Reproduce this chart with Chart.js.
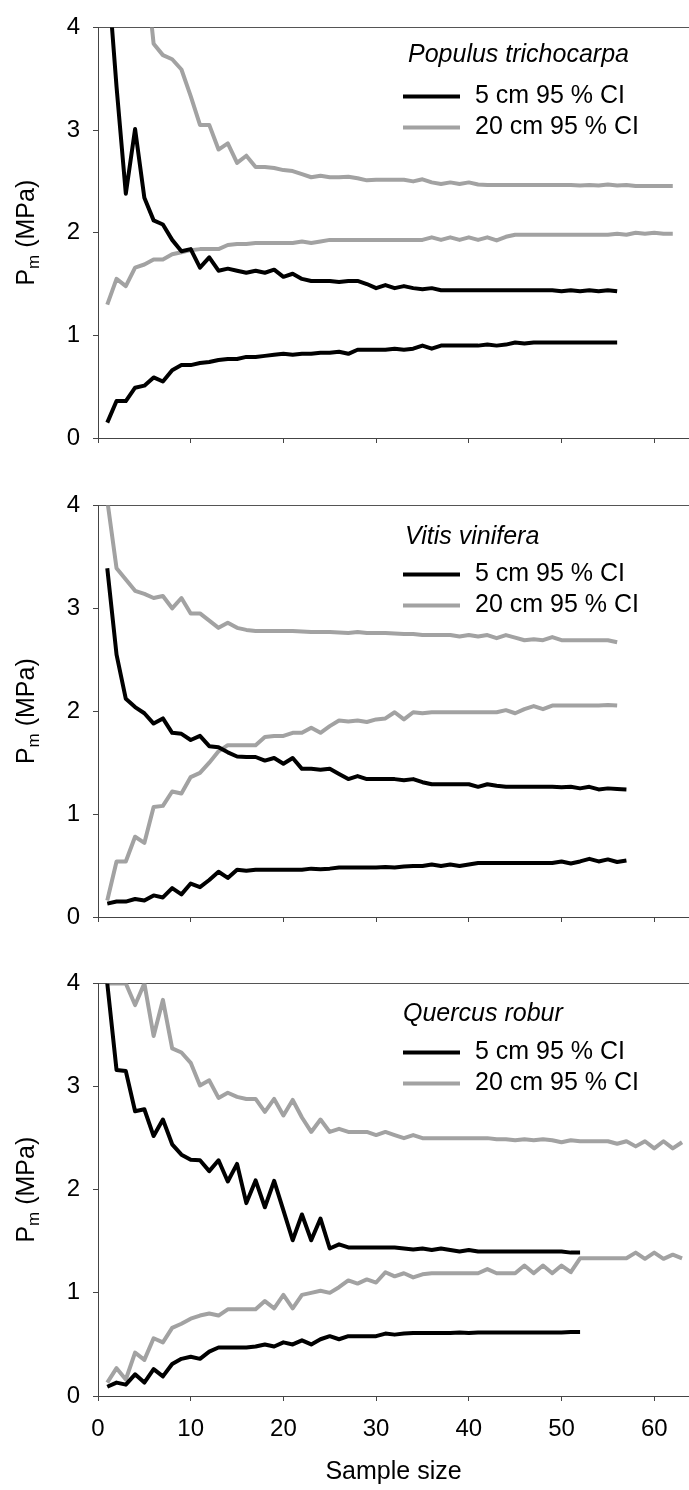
<!DOCTYPE html>
<html>
<head>
<meta charset="utf-8">
<title>Pm vs sample size</title>
<script src="https://cdn.jsdelivr.net/npm/chart.js"></script>
<style>
  html, body { margin: 0; padding: 0; background: #fff; }
  #wrap { position: relative; width: 689px; height: 1490px; }
  canvas { position: absolute; left: 0; }
</style>
</head>
<body>
<div id="wrap">
  <canvas id="c1" width="689" height="478" style="top:0px"></canvas>
  <canvas id="c2" width="689" height="478" style="top:478px"></canvas>
  <canvas id="c3" width="689" height="534" style="top:956px"></canvas>
</div>
<script>
// values, index 0 = sample size 1

const speciesNames = ['Populus trichocarpa', 'Vitis vinifera', 'Quercus robur'];
const legendLabels = ['5 cm 95 % CI', '20 cm 95 % CI'];
const xTicks = [0, 10, 20, 30, 40, 50, 60];
const yTicks = [0, 1, 2, 3, 4];

// Populus trichocarpa
const populus5Upper = [4.6, 3.42, 2.38, 3.01, 2.34, 2.12, 2.08, 1.93, 1.82, 1.84,
  1.66, 1.76, 1.63, 1.65, 1.63, 1.61, 1.63, 1.61, 1.64, 1.57,
  1.60, 1.55, 1.53, 1.53, 1.53, 1.52, 1.53, 1.53, 1.50, 1.46,
  1.49, 1.46, 1.48, 1.46, 1.45, 1.46, 1.44, 1.44, 1.44, 1.44,
  1.44, 1.44, 1.44, 1.44, 1.44, 1.44, 1.44, 1.44, 1.44, 1.43,
  1.44, 1.43, 1.44, 1.43, 1.44, 1.43];
const populus5Lower = [0.15, 0.36, 0.36, 0.49, 0.51, 0.59, 0.55, 0.66, 0.71, 0.71,
  0.73, 0.74, 0.76, 0.77, 0.77, 0.79, 0.79, 0.80, 0.81, 0.82,
  0.81, 0.82, 0.82, 0.83, 0.83, 0.84, 0.82, 0.86, 0.86, 0.86,
  0.86, 0.87, 0.86, 0.87, 0.90, 0.87, 0.90, 0.90, 0.90, 0.90,
  0.90, 0.91, 0.90, 0.91, 0.93, 0.92, 0.93, 0.93, 0.93, 0.93,
  0.93, 0.93, 0.93, 0.93, 0.93, 0.93];
const populus20Upper = [8.5, 6.8, 5.9, 5.2, 4.7, 3.84, 3.73, 3.69, 3.59, 3.33,
  3.05, 3.05, 2.81, 2.87, 2.68, 2.75, 2.64, 2.64, 2.63, 2.61,
  2.60, 2.57, 2.54, 2.555, 2.54, 2.54, 2.545, 2.53, 2.51, 2.515,
  2.515, 2.515, 2.515, 2.50, 2.52, 2.49, 2.475, 2.49, 2.475, 2.49,
  2.47, 2.465, 2.465, 2.465, 2.465, 2.465, 2.465, 2.465, 2.465, 2.465,
  2.465, 2.46, 2.465, 2.46, 2.47, 2.46, 2.465, 2.455, 2.455, 2.455,
  2.455, 2.455];
const populus20Lower = [1.30, 1.55, 1.48, 1.66, 1.69, 1.74, 1.74, 1.79, 1.81, 1.83,
  1.84, 1.84, 1.84, 1.88, 1.89, 1.89, 1.90, 1.90, 1.90, 1.90,
  1.90, 1.915, 1.90, 1.915, 1.93, 1.93, 1.93, 1.93, 1.93, 1.93,
  1.93, 1.93, 1.93, 1.93, 1.93, 1.955, 1.93, 1.955, 1.93, 1.955,
  1.93, 1.955, 1.925, 1.96, 1.98, 1.98, 1.98, 1.98, 1.98, 1.98,
  1.98, 1.98, 1.98, 1.98, 1.98, 1.99, 1.98, 2.0, 1.99, 2.0,
  1.99, 1.99];

// Vitis vinifera
const vitis5Upper = [3.39, 2.55, 2.12, 2.04, 1.98, 1.88, 1.93, 1.79, 1.78, 1.72,
  1.76, 1.66, 1.65, 1.60, 1.56, 1.555, 1.555, 1.52, 1.545, 1.49,
  1.545, 1.44, 1.44, 1.43, 1.44, 1.39, 1.34, 1.37, 1.34, 1.34,
  1.34, 1.34, 1.33, 1.34, 1.31, 1.29, 1.29, 1.29, 1.29, 1.29,
  1.265, 1.29, 1.275, 1.265, 1.265, 1.265, 1.265, 1.265, 1.265, 1.26,
  1.265, 1.25, 1.265, 1.24, 1.25, 1.245, 1.24];
const vitis5Lower = [0.13, 0.15, 0.15, 0.175, 0.16, 0.21, 0.19, 0.28, 0.22, 0.325,
  0.29, 0.36, 0.44, 0.38, 0.46, 0.45, 0.46, 0.46, 0.46, 0.46,
  0.46, 0.46, 0.47, 0.465, 0.47, 0.48, 0.48, 0.48, 0.48, 0.48,
  0.485, 0.48, 0.49, 0.495, 0.495, 0.51, 0.495, 0.51, 0.495, 0.51,
  0.525, 0.525, 0.525, 0.525, 0.525, 0.525, 0.525, 0.525, 0.525, 0.54,
  0.52, 0.54, 0.565, 0.54, 0.56, 0.535, 0.55];
const vitis20Upper = [4.05, 3.39, 3.28, 3.17, 3.14, 3.10, 3.12, 3.00, 3.10, 2.95,
  2.95, 2.88, 2.81, 2.86, 2.81, 2.79, 2.78, 2.78, 2.78, 2.78,
  2.78, 2.775, 2.77, 2.77, 2.77, 2.765, 2.76, 2.77, 2.76, 2.76,
  2.76, 2.755, 2.75, 2.75, 2.74, 2.74, 2.74, 2.74, 2.725, 2.74,
  2.725, 2.74, 2.71, 2.74, 2.715, 2.69, 2.70, 2.69, 2.72, 2.69,
  2.69, 2.69, 2.69, 2.69, 2.69, 2.67];
const vitis20Lower = [0.16, 0.54, 0.54, 0.78, 0.72, 1.07, 1.08, 1.22, 1.20, 1.36,
  1.40, 1.50, 1.61, 1.67, 1.67, 1.67, 1.67, 1.75, 1.76, 1.76,
  1.79, 1.79, 1.84, 1.79, 1.855, 1.91, 1.90, 1.91, 1.895, 1.92,
  1.93, 1.99, 1.92, 1.99, 1.98, 1.99, 1.99, 1.99, 1.99, 1.99,
  1.99, 1.99, 1.99, 2.01, 1.98, 2.02, 2.05, 2.02, 2.055, 2.055,
  2.055, 2.055, 2.055, 2.055, 2.06, 2.055];

// Quercus robur
const quercus5Upper = [4.0, 3.16, 3.15, 2.76, 2.78, 2.52, 2.68, 2.44, 2.34, 2.29,
  2.285, 2.18, 2.285, 2.08, 2.25, 1.87, 2.09, 1.83, 2.085, 1.80,
  1.51, 1.76, 1.51, 1.72, 1.43, 1.47, 1.44, 1.44, 1.44, 1.44,
  1.44, 1.44, 1.43, 1.42, 1.43, 1.415, 1.43, 1.415, 1.40, 1.415,
  1.40, 1.40, 1.40, 1.40, 1.40, 1.40, 1.40, 1.40, 1.40, 1.40,
  1.39, 1.39];
const quercus5Lower = [0.09, 0.13, 0.11, 0.21, 0.13, 0.26, 0.19, 0.31, 0.36, 0.38,
  0.36, 0.43, 0.47, 0.47, 0.47, 0.47, 0.48, 0.50, 0.48, 0.52,
  0.50, 0.54, 0.50, 0.55, 0.58, 0.55, 0.58, 0.58, 0.58, 0.58,
  0.605, 0.595, 0.605, 0.61, 0.61, 0.61, 0.61, 0.61, 0.615, 0.61,
  0.615, 0.615, 0.615, 0.615, 0.615, 0.615, 0.615, 0.615, 0.615, 0.615,
  0.62, 0.62];
const quercus20Upper = [4.0, 4.0, 4.0, 3.79, 4.0, 3.49, 3.84, 3.37, 3.33, 3.23,
  3.01, 3.06, 2.89, 2.94, 2.90, 2.88, 2.88, 2.755, 2.88, 2.72,
  2.87, 2.70, 2.56, 2.68, 2.56, 2.59, 2.56, 2.56, 2.56, 2.53,
  2.56, 2.53, 2.50, 2.53, 2.50, 2.50, 2.50, 2.50, 2.50, 2.50,
  2.50, 2.50, 2.49, 2.49, 2.48, 2.49, 2.48, 2.49, 2.48, 2.46,
  2.48, 2.47, 2.47, 2.47, 2.47, 2.445, 2.47, 2.42, 2.47, 2.40,
  2.47, 2.40, 2.46];
const quercus20Lower = [0.13, 0.27, 0.16, 0.42, 0.35, 0.56, 0.52, 0.66, 0.70, 0.75,
  0.78, 0.80, 0.78, 0.84, 0.84, 0.84, 0.84, 0.92, 0.85, 0.98,
  0.85, 0.98, 1.0, 1.02, 1.0, 1.055, 1.12, 1.09, 1.13, 1.10,
  1.20, 1.16, 1.19, 1.15, 1.18, 1.19, 1.19, 1.19, 1.19, 1.19,
  1.19, 1.23, 1.19, 1.19, 1.19, 1.265, 1.19, 1.265, 1.19, 1.265,
  1.20, 1.335, 1.335, 1.335, 1.335, 1.335, 1.335, 1.39, 1.33, 1.39,
  1.33, 1.37, 1.335];

const FONT = '"Liberation Sans", Arial, Helvetica, sans-serif';
const BLACK = '#000000';
const GREY = '#a2a2a2';
const AXIS = '#444444';

// species name, legend and the P_m axis title (subscript needs manual drawing)
const panelText = {
  id: 'panelText',
  afterDraw(chart, args, opts) {
    const ctx = chart.ctx;
    const area = chart.chartArea;
    ctx.save();

    ctx.fillStyle = '#000';
    ctx.textAlign = 'left';
    ctx.textBaseline = 'middle';
    ctx.font = 'italic 25px ' + FONT;
    ctx.fillText(opts.species, area.left + opts.titleX, area.top + opts.titleY);

    // one legend row per distinct label
    const seen = [];
    chart.data.datasets.forEach(function(ds) {
      if (seen.indexOf(ds.label) === -1) seen.push(ds.label);
    });
    ctx.font = '25px ' + FONT;
    seen.forEach(function(label, i) {
      const ds = chart.data.datasets.find(d => d.label === label);
      const y = area.top + 69 + i * 31;
      ctx.strokeStyle = ds.borderColor;
      ctx.lineWidth = 4;
      ctx.beginPath();
      ctx.moveTo(area.left + 305, y);
      ctx.lineTo(area.left + 362, y);
      ctx.stroke();
      ctx.fillText(label, area.left + 377, y);
    });

    // rotated y title
    ctx.translate(25, (area.top + area.bottom) / 2);
    ctx.rotate(-Math.PI / 2);
    ctx.textBaseline = 'alphabetic';
    const big = '25px ' + FONT;
    const small = '17px ' + FONT;
    ctx.font = big;
    const wP = ctx.measureText('P').width;
    const wRest = ctx.measureText(' (MPa)').width;
    ctx.font = small;
    const wm = ctx.measureText('m').width;
    let x = -(wP + wm + wRest) / 2;
    ctx.font = big;
    ctx.fillText('P', x, 9);
    x += wP;
    ctx.font = small;
    ctx.fillText('m', x, 14);
    x += wm;
    ctx.font = big;
    ctx.fillText(' (MPa)', x, 9);

    ctx.restore();
  }
};

function line(values, label, color) {
  return {
    label: label,
    data: values.map((v, i) => ({ x: i + 1, y: v })),
    borderColor: color,
    backgroundColor: color,
    borderWidth: 4,
    pointRadius: 0,
    pointHoverRadius: 0,
    tension: 0,
    fill: false,
    borderJoinStyle: 'round'
  };
}

function makeChart(id, species, lines, cfg) {
  const ctx = document.getElementById(id).getContext('2d');

  const config = {
    type: 'line',
    data: {
      datasets: [
        line(lines[0], legendLabels[0], BLACK),
        line(lines[1], legendLabels[0], BLACK),
        line(lines[2], legendLabels[1], GREY),
        line(lines[3], legendLabels[1], GREY)
      ]
    },
    options: {
      responsive: false,
      animation: false,
      devicePixelRatio: 1,
      layout: { padding: { top: cfg.top, left: 0, right: 0, bottom: 0 } },
      plugins: {
        legend: { display: false },
        tooltip: { enabled: false },
        panelText: { species: species, titleX: cfg.titleX, titleY: cfg.titleY }
      },
      scales: {
        x: {
          type: 'linear',
          min: 0,
          max: 63.75,
          border: { display: true, color: AXIS, width: 1 },
          grid: { drawOnChartArea: false, drawTicks: true, tickLength: 5, tickColor: AXIS },
          afterBuildTicks: function(scale) {
            scale.ticks = xTicks.map(v => ({ value: v }));
          },
          ticks: {
            display: cfg.showX,
            padding: 14,
            maxRotation: 0,
            color: '#000',
            font: { family: FONT, size: 24 }
          },
          title: {
            display: cfg.showX,
            text: 'Sample size',
            color: '#000',
            font: { family: FONT, size: 25 },
            padding: { top: 0, bottom: 3 }
          },
          afterFit: function(scale) { scale.height = cfg.xHeight; }
        },
        y: {
          type: 'linear',
          min: 0,
          max: 4,
          border: { display: true, color: AXIS, width: 1 },
          grid: {
            color: c => (c.tick && c.tick.value === 4) ? '#555555' : 'rgba(0,0,0,0)',
            tickColor: AXIS,
            tickLength: 5,
            drawTicks: true
          },
          afterBuildTicks: function(scale) {
            scale.ticks = yTicks.map(v => ({ value: v }));
          },
          ticks: {
            padding: 13,
            color: '#000',
            font: { family: FONT, size: 24 }
          },
          afterFit: function(scale) { scale.width = 98; }
        }
      }
    },
    plugins: [panelText]
  };

  return new Chart(ctx, config);
}

makeChart('c1', speciesNames[0],
  [populus5Upper, populus5Lower, populus20Upper, populus20Lower],
  { top: 19, xHeight: 40, showX: false, titleX: 310, titleY: 28 });
makeChart('c2', speciesNames[1],
  [vitis5Upper, vitis5Lower, vitis20Upper, vitis20Lower],
  { top: 20, xHeight: 39, showX: false, titleX: 307, titleY: 32 });
makeChart('c3', speciesNames[2],
  [quercus5Upper, quercus5Lower, quercus20Upper, quercus20Lower],
  { top: 20, xHeight: 94, showX: true, titleX: 305, titleY: 31 });
</script>
</body>
</html>
